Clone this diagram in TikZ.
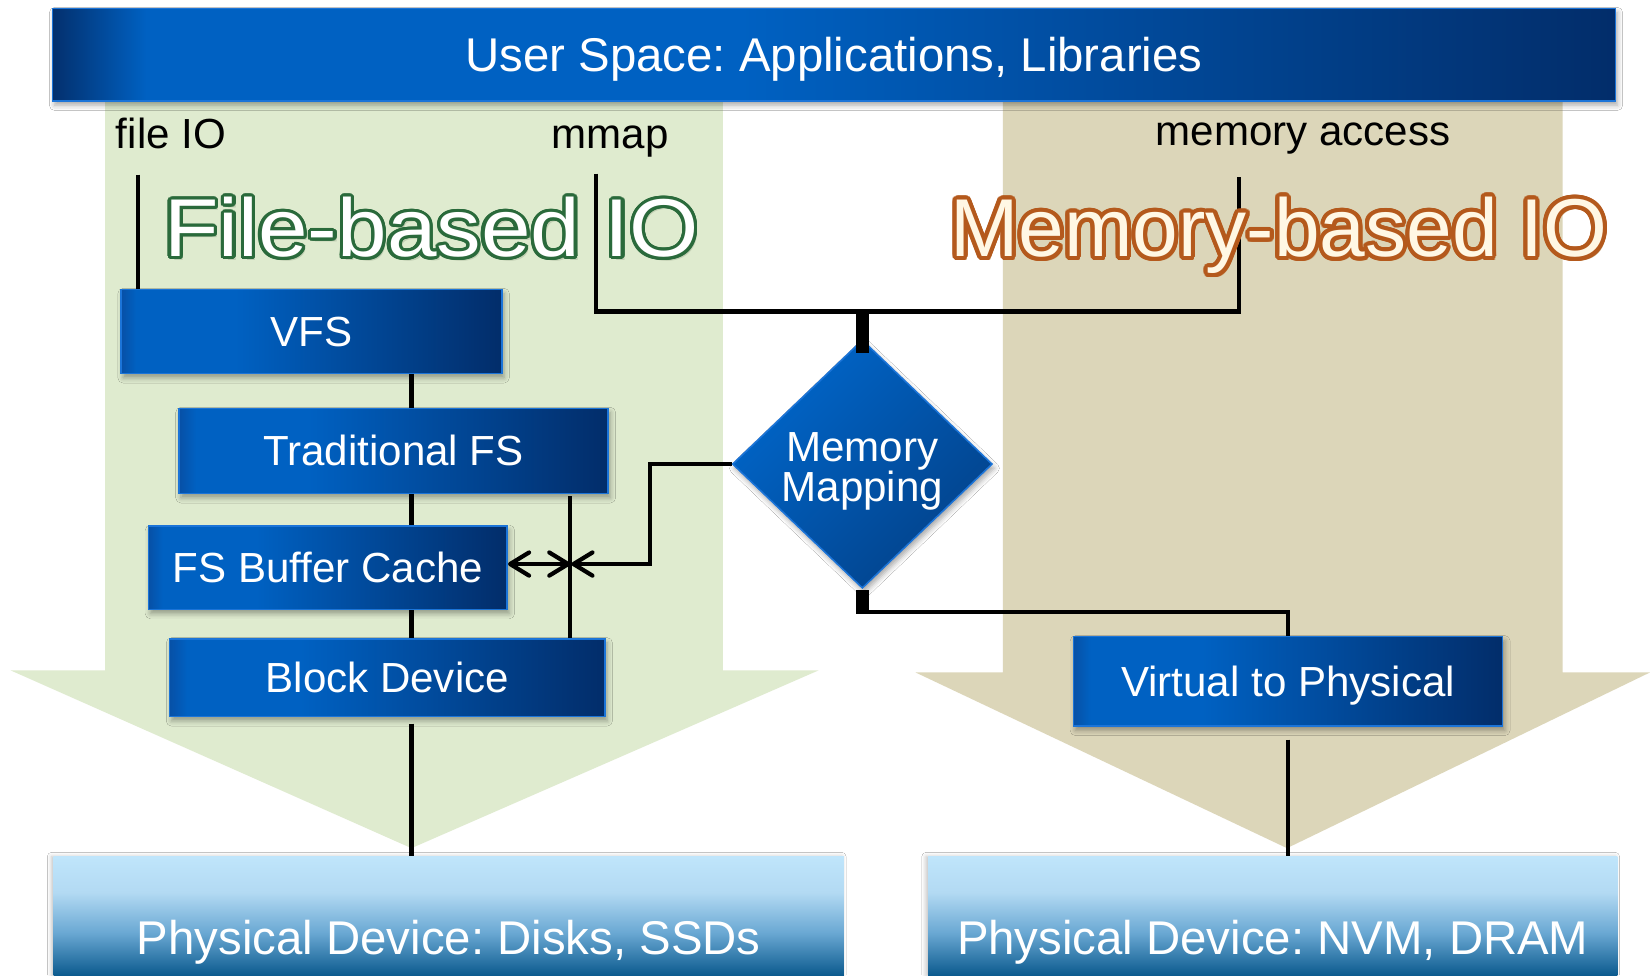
\documentclass[tikz,border=0pt]{standalone}
\usepackage{fontspec}
\setmainfont{Liberation Sans}
\usetikzlibrary{arrows.meta,shapes.geometric,shadows.blur,calc}
\frenchspacing

% palette
\definecolor{bandgreen}{HTML}{DFEBCF}
\definecolor{bandtan}{HTML}{DCD6B9}
\definecolor{deepnavy}{HTML}{022D6A}
\definecolor{royal}{HTML}{0061C2}
\definecolor{edgeblue}{HTML}{1B74D8}
\definecolor{boxleft}{HTML}{0750A6}
\definecolor{barleft}{HTML}{03306E}
\definecolor{diabright}{HTML}{0066CA}
\definecolor{diadark}{HTML}{03428A}
\definecolor{physlight}{HTML}{BFE5FB}
\definecolor{physlighttwo}{HTML}{B3DAF3}
\definecolor{physmid}{HTML}{6AA8D3}
\definecolor{physdark}{HTML}{0B5A8E}
\definecolor{fileink}{HTML}{2A6A3B}
\definecolor{fileshadow}{HTML}{C2CFB3}
\definecolor{memink}{HTML}{B4591C}
\definecolor{memfill}{HTML}{FFF7E4}
\definecolor{memshadow}{HTML}{C8A274}

% gradients (the path's bounding box spans 25bp..75bp)
\pgfdeclarehorizontalshading{boxshade}{100bp}{color(0bp)=(boxleft); color(25bp)=(boxleft); color(27bp)=(royal); color(40bp)=(royal); color(75bp)=(deepnavy); color(100bp)=(deepnavy)}
\pgfdeclarehorizontalshading{barshade}{100bp}{color(0bp)=(barleft); color(25bp)=(barleft); color(28bp)=(royal); color(47bp)=(royal); color(75bp)=(deepnavy); color(100bp)=(deepnavy)}
\pgfdeclareverticalshading{physshade}{100bp}{color(0bp)=(physdark); color(25bp)=(physdark); color(43bp)=(physmid); color(60bp)=(physlighttwo); color(75bp)=(physlight); color(100bp)=(physlight)}

\newcommand\fsz[1]{\fontsize{#1}{#1}\selectfont}

% outlined lettering: shadow, ring of outline copies, then the fill
\newcommand\ringtext[5]{%
  \rlap{\hspace*{3pt}\raisebox{-4pt}{\textcolor{#4}{#5}}}%
  \foreach \ang in {0,15,...,345}{%
    \pgfmathsetlengthmacro\ringdx{#3*cos(\ang)}%
    \pgfmathsetlengthmacro\ringdy{#3*sin(\ang)}%
    \rlap{\hspace*{\ringdx}\raisebox{\ringdy}{\textcolor{#1}{#5}}}%
  }%
  \textcolor{#2}{#5}%
}

\tikzset{
  softshadow/.style={blur shadow={shadow xshift=2pt, shadow yshift=-4pt, shadow blur radius=5pt, shadow opacity=35}},
  bluebox/.style={draw=edgeblue, line width=1.5pt, shade, shading=boxshade, text=white,
    font=\fsz{40}, text height=28.6pt, text depth=0pt, inner sep=0pt, softshadow},
  barbox/.style={draw=edgeblue, line width=1.5pt, shade, shading=barshade, text=white,
    font=\fsz{45}, text height=32.2pt, text depth=0pt, inner sep=0pt,
    minimum width=1485pt, minimum height=88pt, softshadow},
  physbox/.style={shade, shading=physshade, inner sep=0pt,
    blur shadow={shadow xshift=-2pt, shadow yshift=0pt, shadow blur radius=4pt, shadow opacity=25}},
  phystext/.style={text=white, font=\fsz{45}, inner sep=0pt, anchor=base},
  pathlabel/.style={text=black, font=\fsz{40}, inner sep=0pt, anchor=base west},
  bigword/.style={font=\fsz{78}, inner sep=0pt, anchor=base west},
  conn/.style={line width=4pt},
  stub/.style={line width=12pt},
}

\begin{document}
\begin{tikzpicture}[x=1pt, y=-1pt, >={Straight Barb[length=18pt,width=22pt,round]}]
\useasboundingbox (0,0) rectangle (1568,927);
\fill[white] (0,0) rectangle (1568,927);

% wide down-pointing arrows behind the two stacks
\fill[bandgreen] (100,90) -- (687,90) -- (687,637) -- (778,637) -- (391,806) -- (10,637) -- (100,637) -- cycle;
\fill[bandtan] (953,90) -- (1485,90) -- (1485,639) -- (1568,639) -- (1223,806) -- (870,639) -- (953,639) -- cycle;

% layers
\node[barbox] (user) at (792.5,52) {User Space: Applications, Libraries};

\node[bluebox, minimum width=362pt, minimum height=80pt] (vfs) at (296,315) {VFS};
\node[bluebox, minimum width=408pt, minimum height=81pt] (tfs) at (374,428.5) {Traditional FS};
\node[bluebox, minimum width=341pt, minimum height=79pt] (fsb) at (311.5,539.5) {FS Buffer Cache};
\node[bluebox, minimum width=414pt, minimum height=74pt] (blk) at (368,644) {Block Device};
\node[bluebox, minimum width=408pt, minimum height=85pt] (v2p) at (1224,647.5) {Virtual to Physical};

\node[diamond, draw=edgeblue, line width=1.5pt, shade, left color=diabright, right color=diadark,
  shading angle=45, minimum width=247pt, minimum height=236pt, inner sep=0pt, softshadow] (mm) at (819.5,441) {};
\node[text=white, font=\fontsize{40}{38}\selectfont, align=center, inner sep=0pt] (mmtext)
  at ($(mm.center)+(0,7)$) {Memory\\Mapping};

\node[physbox, minimum width=751pt, minimum height=113pt] (disk) at (426.5,870.5) {};
\node[physbox, minimum width=655pt, minimum height=113pt] (nvm) at (1209.5,870.5) {};
\node[phystext] (disktext) at (426.5,907) {Physical Device: Disks, SSDs};
\node[phystext] (nvmtext) at (1209.5,907) {Physical Device: NVM, DRAM};

% path labels
\node[pathlabel] (fileio) at (110,141) {file IO};
\node[pathlabel] (mmap) at (524,141) {mmap};
\node[pathlabel] (memacc) at (1098,138) {memory access};

% fixed columns and bends
\coordinate (fioTop) at (131,166);
\coordinate (mmTop) at (566,165);
\coordinate (maTop) at (1177.5,168);
\coordinate (join) at (819.5,296);
\coordinate (spine) at (391,0);
\coordinate (rail) at (542,0);
\coordinate (railhit) at (542,536);
\coordinate (elbow) at (618,536);
\coordinate (mmlow) at ($(mm.south)+(0,22)$);

% connectors
\draw[conn] (fioTop) -- (fioTop |- vfs.north);
\draw[conn] (mmTop) |- (join) -| (maTop);
\draw[conn] (vfs.south -| spine) -- (tfs.north -| spine);
\draw[conn] (tfs.south -| spine) -- (fsb.north -| spine);
\draw[conn] (fsb.south -| spine) -- (blk.north -| spine);
\draw[conn] ($(blk.south -| spine)+(0,6)$) -- (disk.north -| spine);
\draw[conn] ($(tfs.south -| rail)+(0,2)$) -- (blk.north -| rail);
\draw[conn,<->] (fsb.east |- railhit) -- (railhit);
\draw[conn,->] (mm.west) -| (elbow) -- ($(railhit)+(1,0)$);
\draw[conn] (mmlow) -| (v2p.north);
\draw[conn] ($(v2p.south)+(0,12)$) -- (nvm.north -| v2p.south);
\draw[stub] (join) -- ($(mm.north)+(0,13)$);
\draw[stub] ($(mm.south)+(0,1)$) -- ($(mmlow)+(0,2)$);

% headline lettering
\node[bigword, xscale=1.085] (filehead) at (156,244)
  {\ringtext{fileink}{white}{3pt}{fileshadow}{File-based IO}};
\node[bigword, xscale=1.0] (memhead) at (903,244)
  {\ringtext{memink}{memfill}{3.8pt}{memshadow}{Memory-based IO}};
\end{tikzpicture}
\end{document}
